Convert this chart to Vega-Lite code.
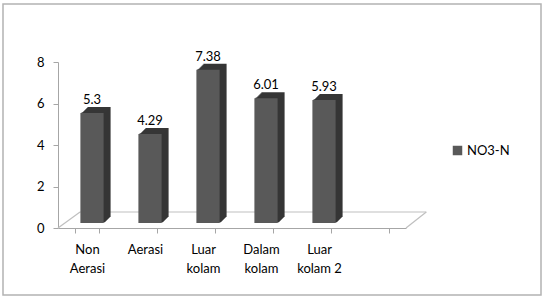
{
  "$schema": "https://vega.github.io/schema/vega-lite/v6.json",
  "width": 538,
  "height": 291,
  "autosize": {"type": "none"},
  "padding": {"left": 3, "top": 4, "right": 3, "bottom": 5},
  "background": "#ffffff",
  "config": {
    "view": {"stroke": "#b3b3b3", "strokeWidth": 1.5},
    "font": "Lato",
    "axis": {"labelFont": "Lato", "labelFontSize": 13, "labelColor": "#000000", "domainColor": "#a6a6a6", "tickColor": "#a6a6a6", "grid": false, "title": null},
    "legend": {"labelFont": "Lato", "labelFontSize": 13, "labelColor": "#000000"}
  },
  "datasets": {
    "bars": [
      {"lokasi": "Non Aerasi", "nilai": 5.3, "seri": "NO3-N"},
      {"lokasi": "Aerasi", "nilai": 4.29, "seri": "NO3-N"},
      {"lokasi": "Luar kolam", "nilai": 7.38, "seri": "NO3-N"},
      {"lokasi": "Dalam kolam", "nilai": 6.01, "seri": "NO3-N"},
      {"lokasi": "Luar kolam 2", "nilai": 5.93, "seri": "NO3-N"}
    ],
    "floor": [
      {"fx1": 0, "fy1": 0, "fx2": 0.38, "fy2": 0.77},
      {"fx1": 0.38, "fy1": 0.77, "fx2": 6.35, "fy2": 0.77},
      {"fx1": 6, "fy1": 0, "fx2": 6.35, "fy2": 0.77}
    ]
  },
  "layer": [
    {
      "data": {"name": "floor"},
      "mark": {"type": "rule", "color": "#bfbfbf", "strokeWidth": 1.2},
      "encoding": {
        "x": {"field": "fx1", "type": "quantitative", "scale": {"domain": [0, 6], "range": [55, 403], "nice": false, "zero": false}, "axis": null},
        "x2": {"field": "fx2"},
        "y": {"field": "fy1", "type": "quantitative", "scale": {"domain": [0, 8], "range": [224, 58], "nice": false}, "axis": {"values": [0, 2, 4, 6, 8], "offset": -55, "tickSize": 5, "labelPadding": 9, "domainColor": "#a6a6a6"}},
        "y2": {"field": "fy2"}
      }
    },
    {
      "data": {"name": "bars"},
      "encoding": {
        "x": {"field": "lokasi", "type": "nominal", "sort": null,
          "scale": {"domain": ["Non Aerasi", "Aerasi", "Luar kolam", "Dalam kolam", "Luar kolam 2", "x6"], "range": [55, 403], "paddingInner": 0.6, "paddingOuter": 0.3},
          "axis": {"offset": -67, "tickBand": "extent", "tickSize": 5, "labelAngle": 0, "labelPadding": 10, "labelLineHeight": 19, "labelExpr": "datum.label == 'x6' ? '' : (datum.label == 'Luar kolam 2' ? ['Luar', 'kolam 2'] : split(datum.label, ' '))"}},
        "y": {"field": "nilai", "type": "quantitative"}
      },
      "layer": [
        {"mark": {"type": "bar", "color": "#363636", "xOffset": 12, "yOffset": -11, "y2Offset": -10}},
        {"mark": {"type": "bar", "color": "#363636", "xOffset": 11, "yOffset": -10, "y2Offset": -9}},
        {"mark": {"type": "bar", "color": "#363636", "xOffset": 10, "yOffset": -9, "y2Offset": -8}},
        {"mark": {"type": "bar", "color": "#363636", "xOffset": 9, "yOffset": -8, "y2Offset": -7}},
        {"mark": {"type": "bar", "color": "#363636", "xOffset": 8, "yOffset": -7, "y2Offset": -6}},
        {"mark": {"type": "bar", "color": "#363636", "xOffset": 7, "yOffset": -6, "y2Offset": -5}},
        {"mark": {"type": "bar", "color": "#363636", "xOffset": 6, "yOffset": -5.5, "y2Offset": -5}},
        {
          "mark": {"type": "bar", "xOffset": 5, "yOffset": -5, "y2Offset": -5},
          "encoding": {
            "color": {"field": "seri", "type": "nominal", "scale": {"range": ["#595959"]},
              "legend": {"title": null, "orient": "none", "legendX": 448, "legendY": 140, "symbolType": "square", "symbolSize": 90, "labelOffset": 3}}
          }
        },
        {
          "mark": {"type": "text", "dx": 5, "dy": -14, "baseline": "alphabetic", "fontSize": 13, "font": "Lato", "color": "#000000"},
          "encoding": {
            "text": {"field": "nilai", "type": "quantitative"}
          }
        }
      ]
    }
  ],
  "resolve": {"scale": {"x": "independent"}, "axis": {"x": "independent"}}
}
